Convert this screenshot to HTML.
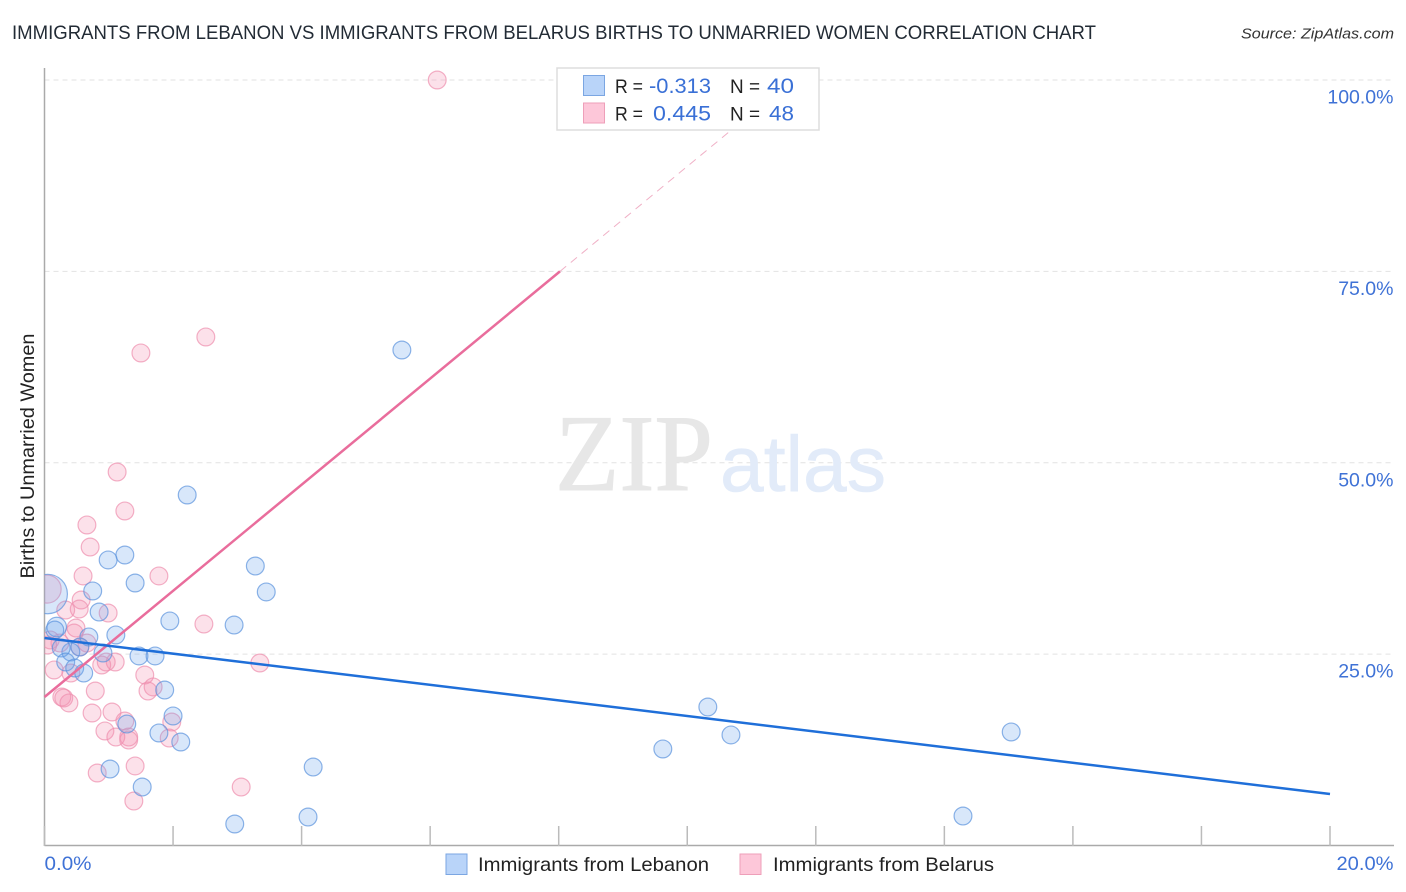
<!DOCTYPE html>
<html lang="en">
<head>
<meta charset="utf-8">
<title>Immigrants from Lebanon vs Immigrants from Belarus Births to Unmarried Women Correlation Chart</title>
<style>
html,body{margin:0;padding:0;background:#fff;}
svg{display:block;font-family:"Liberation Sans",sans-serif;}
</style>
</head>
<body>
<svg id="chart" xmlns="http://www.w3.org/2000/svg" width="1406" height="892" viewBox="0 0 1406 892">
  <defs>
    <clipPath id="plot-clip"><rect x="44.5" y="60" width="1350" height="786"/></clipPath>
  </defs>
  <rect width="1406" height="892" fill="#ffffff"/>
  <text x="12" y="39" font-size="19" fill="#222b35" textLength="1084" lengthAdjust="spacingAndGlyphs">IMMIGRANTS FROM LEBANON VS IMMIGRANTS FROM BELARUS BIRTHS TO UNMARRIED WOMEN CORRELATION CHART</text>
  <text x="1394" y="38.500" font-size="15" font-style="italic" fill="#333" text-anchor="end" textLength="153" lengthAdjust="spacingAndGlyphs">Source: ZipAtlas.com</text>
  <g id="grid"></g>
  <g>
    <text x="555" y="490" font-family="'Liberation Serif',serif" font-size="109" fill="#e7e7e7" stroke="#e7e7e7" stroke-width="1" textLength="158" lengthAdjust="spacingAndGlyphs">ZIP</text>
    <text x="720" y="491" font-size="79" fill="#e2ebf9" stroke="#e2ebf9" stroke-width="0.6" textLength="166" lengthAdjust="spacingAndGlyphs">atlas</text>
  </g>
  <g id="axes"></g>
  <g id="points" clip-path="url(#plot-clip)"></g>
  <g id="lines"></g>
  <g id="labels"></g>
  <text transform="translate(34 456) rotate(-90)" font-size="19" fill="#222" text-anchor="middle" textLength="245" lengthAdjust="spacingAndGlyphs">Births to Unmarried Women</text>

  <g>
    <rect x="557" y="68" width="262" height="62" fill="#ffffff" stroke="#dddddd" stroke-width="1.500"/>
    <rect x="583.500" y="75.500" width="21" height="20" fill="#b9d4f9" stroke="#7ba6e2"/>
    <rect x="583.500" y="103" width="21" height="20" fill="#fdc7d9" stroke="#ee9fb9"/>
    <text x="615" y="93" font-size="19.500" fill="#222" textLength="28" lengthAdjust="spacingAndGlyphs">R =</text>
    <text x="711" y="93" font-size="21" fill="#3a70d6" text-anchor="end" textLength="62" lengthAdjust="spacingAndGlyphs">-0.313</text>
    <text x="730" y="93" font-size="19.500" fill="#222" textLength="30" lengthAdjust="spacingAndGlyphs">N =</text>
    <text x="794" y="93" font-size="21" fill="#3a70d6" text-anchor="end" textLength="27" lengthAdjust="spacingAndGlyphs">40</text>
    <text x="615" y="120.500" font-size="19.500" fill="#222" textLength="28" lengthAdjust="spacingAndGlyphs">R =</text>
    <text x="711" y="120.500" font-size="21" fill="#3a70d6" text-anchor="end" textLength="58" lengthAdjust="spacingAndGlyphs">0.445</text>
    <text x="730" y="120.500" font-size="19.500" fill="#222" textLength="30" lengthAdjust="spacingAndGlyphs">N =</text>
    <text x="794" y="120.500" font-size="21" fill="#3a70d6" text-anchor="end" textLength="25" lengthAdjust="spacingAndGlyphs">48</text>
  </g>

  <g>
    <rect x="446" y="854" width="21" height="20.500" fill="#b9d4f9" stroke="#7ba6e2"/>
    <text x="478" y="871" font-size="19.500" fill="#222" textLength="231" lengthAdjust="spacingAndGlyphs">Immigrants from Lebanon</text>
    <rect x="740" y="854" width="21" height="20.500" fill="#fdc7d9" stroke="#ee9fb9"/>
    <text x="773" y="871" font-size="19.500" fill="#222" textLength="221" lengthAdjust="spacingAndGlyphs">Immigrants from Belarus</text>
  </g>
</svg>
<script>
// Chart data (x: percent, y: percent)
const lebanonX = [5.56,2.22,1.25,0.99,1.41,0.75,3.28,3.45,0.85,1.95,2.95,1.11,0.69,0.19,0.16,1.47,1.72,0.91,0.55,0.41,0.26,0.33,0.47,0.61,1.87,2.00,1.28,1.78,2.12,1.02,1.52,4.18,4.10,2.96,14.29,15.04,10.68,10.32,9.62,0.05];
const lebanonY = [64.73,45.79,37.95,37.30,34.29,33.25,36.51,33.12,30.50,29.33,28.80,27.50,27.24,28.54,28.15,24.76,24.76,25.15,25.93,25.28,25.80,23.97,23.19,22.53,20.31,16.92,15.87,14.70,13.52,9.99,7.64,10.25,3.72,2.81,3.85,14.83,14.44,18.09,12.61,32.85];
const lebanonWeight = [1,1,1,1,1,1,1,1,1,1,1,1,1,1.2,1,1,1,1,1,1,1,1,1,1,1,1,1,1,1,1,1,1,1,1,1,1,1,1,1,4.9];
const belarusX = [6.11,2.51,1.50,1.13,1.25,0.66,0.71,0.60,1.78,0.04,0.57,0.33,0.54,0.99,0.49,0.46,2.48,0.66,0.55,1.10,0.96,0.89,0.15,0.41,1.56,1.69,1.61,0.79,3.35,0.27,0.30,0.38,0.74,1.05,1.25,1.98,0.94,1.31,1.11,1.31,1.94,0.82,1.41,1.39,3.06,0.09,0.05,0.24];
const belarusY = [100,66.43,64.34,48.79,43.70,41.87,38.99,35.21,35.21,33.50,32.07,30.76,30.89,30.37,28.41,27.76,28.93,26.45,25.93,23.97,23.97,23.58,22.93,22.53,22.27,20.71,20.18,20.18,23.84,19.40,19.27,18.62,17.31,17.44,16.26,16.13,14.96,14.17,14.17,13.78,14.04,9.47,10.39,5.81,7.64,26.85,26.19,26.45];
const belarusWeight = [1,1,1,1,1,1,1,1,1,2.5,1,1,1,1,1,1,1,1,1,1,1,1,1,1,1,1,1,1,1,1,1,1,1,1,1,1,1,1,1,1,1,1,1,1,1,1,1,1];
const lebanonTrendX = [0,20];
const lebanonTrendY = [27.1,6.73];
const belarusTrendX = [0,8.02];
const belarusTrendY = [19.4,75];
const belarusDashX = [8.02,11.63];
const belarusDashY = [75,100];
const yTicks = [100,75,50,25];
const yTickLabels = ["100.0%","75.0%","50.0%","25.0%"];
const xTicks = [0,2,4,6,8,10,12,14,16,18,20];
const xEdgeTicks = [0,20];
const xEdgeLabels = ["0.0%","20.0%"];

// Axis functions
const sx = v => 44.5 + v * 64.275;
const sy = v => 845.5 - v * 7.655;

const NS = "http://www.w3.org/2000/svg";
function make(parent, tag, attrs) {
  const el = document.createElementNS(NS, tag);
  for (const k in attrs) el.setAttribute(k, attrs[k]);
  parent.appendChild(el);
  return el;
}
const grid = document.getElementById("grid");
const axes = document.getElementById("axes");
const points = document.getElementById("points");
const lines = document.getElementById("lines");
const labels = document.getElementById("labels");

yTicks.forEach((t, i) => {
  const g = make(grid, "line", {x1: 44.5, x2: 1394, y1: sy(t), y2: sy(t), stroke: "#e2e2e2", "stroke-width": 1, "stroke-dasharray": "5 4"});
  
  
  const lb = make(labels, "text", {x: 1393.5, y: sy(t) + 23.5, "font-size": 19.5, fill: "#3f72d6", "text-anchor": "end"});
  
  
  lb.textContent = yTickLabels[i];
});

const yAxisLine = make(axes, "line", {x1: 44.5, x2: 44.5, y1: 68, y2: 846, stroke: "#aaaaaa", "stroke-width": 1.5});


const xAxisLine = make(axes, "line", {x1: 44.5, x2: 1394, y1: 845.5, y2: 845.5, stroke: "#aaaaaa", "stroke-width": 1.5});


xTicks.forEach(t => {
  const tk = make(axes, "line", {x1: sx(t), x2: sx(t), y1: 826, y2: 846, stroke: "#bbbbbb", "stroke-width": 1.5});
  
  
});
xEdgeTicks.forEach((t, i) => {
  const lb = make(labels, "text", {x: i === 0 ? sx(t) : 1393.5, y: 870, "font-size": 19.5, fill: "#3f72d6", "text-anchor": i === 0 ? "start" : "end", textLength: i === 0 ? 47 : 57, lengthAdjust: "spacingAndGlyphs"});
  
  
  lb.textContent = xEdgeLabels[i];
});

function drawSeries(xs, ys, ws, fill, stroke) {
  xs.forEach((x, i) => {
    const c = make(points, "circle", {cx: sx(x), cy: sy(ys[i]), r: 8.9 * Math.sqrt(ws[i]), fill: fill, "fill-opacity": 0.27, stroke: stroke, "stroke-opacity": 0.7, "stroke-width": 1.2});
    
    
  });
}
drawSeries(belarusX, belarusY, belarusWeight, "#f48fb1", "#ee8fae");
drawSeries(lebanonX, lebanonY, lebanonWeight, "#6ea6ee", "#5b93dd");

const dash = make(lines, "line", {x1: sx(belarusDashX[0]), y1: sy(belarusDashY[0]), x2: sx(belarusDashX[1]), y2: sy(belarusDashY[1]), stroke: "#f0b0c6", "stroke-width": 1, "stroke-dasharray": "8 6"});


const pinkLine = make(lines, "line", {x1: sx(belarusTrendX[0]), y1: sy(belarusTrendY[0]), x2: sx(belarusTrendX[1]), y2: sy(belarusTrendY[1]), stroke: "#e96d9c", "stroke-width": 2.5});


const blueLine = make(lines, "line", {x1: sx(lebanonTrendX[0]), y1: sy(lebanonTrendY[0]), x2: sx(lebanonTrendX[1]), y2: sy(lebanonTrendY[1]), stroke: "#1f6fd9", "stroke-width": 2.5});


</script>
</body>
</html>
